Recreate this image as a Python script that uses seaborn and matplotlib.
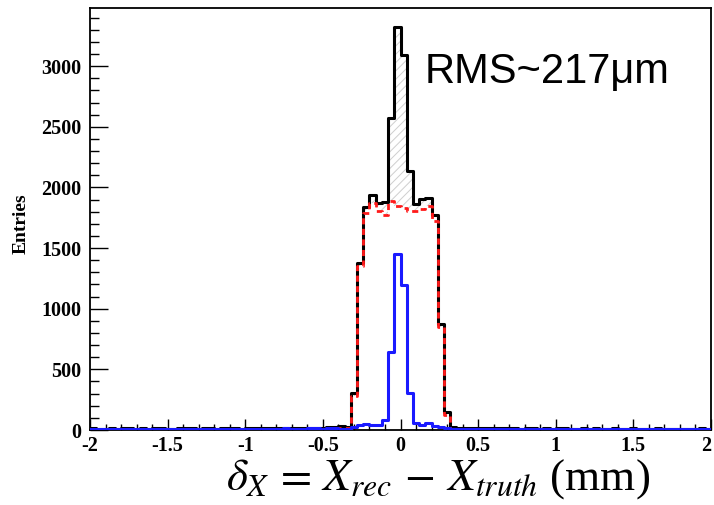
import numpy as np
import pandas as pd
import matplotlib
matplotlib.use("Agg")
import matplotlib.pyplot as plt
from matplotlib.ticker import FixedLocator, MultipleLocator, FixedFormatter
import seaborn as sns

# ---- data (bin contents; 100 bins of 0.04 mm from -2 to 2) ----
bin_edges_range = (-2.0, 2.0)
n_bins = 100

black_left = [14, 10, 12, 15, 11, 13, 16, 12, 14, 10, 13, 15, 12, 11, 14, 16, 13, 12, 15, 14,
              11, 13, 17, 14, 12, 15, 16, 13, 18, 15, 14, 17, 16, 19, 15, 18, 20, 17, 22, 26, 30]
black_center = [25, 306, 1380, 1840, 1935, 1868, 1881, 2577, 3325, 3095, 2138, 1862, 1903, 1917,
                1773, 877, 145]
black_right = [24, 20, 17, 18, 15, 16, 14, 17, 13, 15, 14, 12, 15, 13, 11, 14, 12, 13, 15, 11,
               12, 14, 10, 13, 12, 11, 14, 12, 10, 13, 11, 12, 10, 13, 11, 12, 9, 12, 10, 11, 13, 10]

red_left = [6, 3, 3, 7, 4, 5, 7, 5, 6, 1, 5, 8, 3, 3, 4, 7, 5, 3, 4, 4,
            2, 1, 7, 5, 1, 5, 4, 2, 8, 3, 3, 4, 4, 8, 3, 4, 7, 5, 8, 13, 18]
red_center = [15, 282, 1350, 1793, 1868, 1807, 1771, 1890, 1848, 1829, 1807, 1807, 1826, 1848,
              1724, 850, 125]
red_right = [12, 9, 7, 7, 6, 6, 5, 7, 5, 6, 5, 4, 6, 5, 4, 5, 4, 5, 6, 4,
             4, 5, 3, 5, 4, 4, 5, 4, 3, 5, 4, 4, 3, 5, 4, 4, 3, 4, 3, 4, 5, 3]

blue_left = [8, 7, 9, 8, 7, 8, 9, 7, 8, 9, 8, 7, 9, 8, 10, 9, 8, 9, 11, 10,
             9, 12, 10, 9, 11, 10, 12, 11, 10, 12, 11, 13, 12, 11, 12, 14, 13, 12, 14, 13, 12]
blue_center = [12, 24, 40, 50, 45, 40, 83, 640, 1448, 1192, 304, 55, 45, 55, 35, 25, 15]
blue_right = [12, 11, 10, 11, 9, 10, 9, 10, 8, 9, 9, 8, 9, 8, 7, 9, 8, 8, 9, 7,
              8, 9, 7, 8, 8, 7, 9, 8, 7, 8, 7, 8, 7, 8, 7, 8, 6, 8, 7, 7, 8, 7]

x_ticks = [-2, -1.5, -1, -0.5, 0, 0.5, 1, 1.5, 2]
x_tick_labels = ["-2", "-1.5", "-1", "-0.5", "0", "0.5", "1", "1.5", "2"]
y_ticks = [0, 500, 1000, 1500, 2000, 2500, 3000]
y_tick_labels = ["0", "500", "1000", "1500", "2000", "2500", "3000"]
annotation = "RMS~217\u03bcm"

# ---- assemble ----
black = np.array(black_left + black_center + black_right, dtype=float)
red = np.array(red_left + red_center + red_right, dtype=float)
blue = np.array(blue_left + blue_center + blue_right, dtype=float)
edges = np.linspace(bin_edges_range[0], bin_edges_range[1], n_bins + 1)
centers = 0.5 * (edges[:-1] + edges[1:])
df = pd.DataFrame({"x": centers, "black": black, "red": red, "blue": blue})
bin_list = [float(e) for e in edges]

sns.set_style("ticks")
plt.rcParams["mathtext.fontset"] = "stix"
plt.rcParams["hatch.linewidth"] = 0.7
for k in ("text.color", "axes.labelcolor", "xtick.color", "ytick.color", "axes.edgecolor"):
    plt.rcParams[k] = "black"

fig = plt.figure(figsize=(7.14, 5.05), dpi=100)
ax = fig.add_axes([90 / 714, 1 - 430 / 505, (711 - 90) / 714, (430 - 8) / 505])

# hatched area between the red and black histograms
ax.fill_between(edges, np.append(red, red[-1]), np.append(black, black[-1]), step="post",
                facecolor="none", edgecolor="#cfcfcf", hatch="////", linewidth=0, zorder=1)

sns.histplot(data=df, x="x", weights="black", bins=bin_list, element="step", fill=False,
             color="black", linewidth=2.2, ax=ax, zorder=2)
sns.histplot(data=df, x="x", weights="red", bins=bin_list, element="step", fill=False,
             color="#ff1a1a", linewidth=2.0, linestyle=(0, (2.2, 1.6)), ax=ax, zorder=3)
sns.histplot(data=df, x="x", weights="blue", bins=bin_list, element="step", fill=False,
             color="#1a1aff", linewidth=2.2, ax=ax, zorder=4)

ax.set_xlim(-2, 2)
ax.set_ylim(0, 3480)

ax.xaxis.set_major_locator(FixedLocator(x_ticks))
ax.xaxis.set_major_formatter(FixedFormatter(x_tick_labels))
ax.xaxis.set_minor_locator(MultipleLocator(0.1))
ax.yaxis.set_major_locator(FixedLocator(y_ticks))
ax.yaxis.set_major_formatter(FixedFormatter(y_tick_labels))
ax.yaxis.set_minor_locator(MultipleLocator(100))

ax.tick_params(axis="y", which="major", direction="in", length=13, width=1.0, pad=6,
               right=False, left=True)
ax.tick_params(axis="y", which="minor", direction="in", length=6.5, width=1.0,
               right=False, left=True)
ax.tick_params(axis="x", which="major", direction="in", length=8, width=1.0, pad=4,
               top=False, bottom=True)
ax.tick_params(axis="x", which="minor", direction="in", length=4, width=1.0,
               top=False, bottom=True)

fig.canvas.draw()
xl = ax.get_xticklabels()
for lab in xl + ax.get_yticklabels():
    lab.set_fontfamily("Liberation Serif")
    lab.set_fontweight("bold")
    lab.set_fontsize(14.5)
    lab.set_color("black")
xl[-1].set_horizontalalignment("right")
xl[0].set_horizontalalignment("center")

for s in ax.spines.values():
    s.set_visible(True)
    s.set_linewidth(1.3)
    s.set_color("black")

ax.set_ylabel("Entries", fontfamily="Liberation Serif", fontweight="bold", fontsize=14,
              color="black")
ax.yaxis.set_label_coords(-0.098, 0.49)
ax.set_xlabel(r"$\delta_X\,=\,X_{rec}\,-\,X_{truth}$ (mm)", fontfamily="Liberation Serif",
              fontsize=32.5, color="black", va="center")
ax.xaxis.set_label_coords((438 - 90) / 621, (430 - 479) / 422)

ax.text(425 / 714, 1 - 83 / 505, annotation, transform=fig.transFigure,
        fontfamily="Liberation Sans", fontsize=30, ha="left", va="baseline", color="black")

fig.savefig("out.png", dpi=100)
